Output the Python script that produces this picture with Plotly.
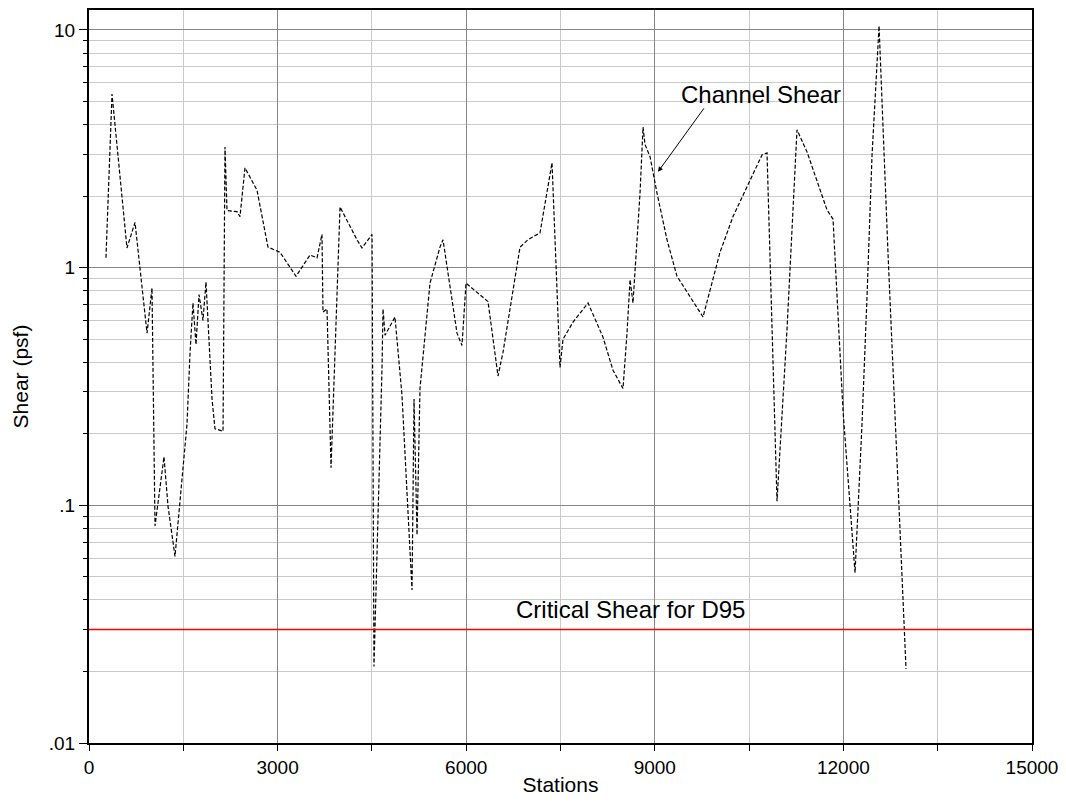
import math
import plotly.graph_objects as go

# stations along the reach and computed channel shear (psf)
stations = [
    270, 366, 604, 732, 923, 1002, 1050, 1193, 1257, 1368,
    1559, 1607, 1654, 1702, 1750, 1813, 1861, 1957, 2004, 2132,
    2163, 2195, 2354, 2402, 2481, 2672, 2847, 3038, 3293, 3515,
    3627, 3706, 3722, 3786, 3850, 3993, 4263, 4343, 4502, 4533,
    4661, 4677, 4709, 4867, 4979, 5138, 5170, 5218, 5265, 5424,
    5583, 5631, 5854, 5933, 5997, 6172, 6347, 6506, 6585, 6856,
    6983, 7174, 7253, 7365, 7444, 7492, 7540, 7699, 7938, 8176,
    8335, 8494, 8558, 8606, 8653, 8765, 8813, 8844, 8924, 9035,
    9194, 9353, 9767, 10037, 10244, 10514, 10705, 10785, 10944, 11103,
    11262, 11421, 11739, 11835, 11994, 12185, 12296, 12376, 12455, 12567,
    12710, 12996,
]
shear = [
    1.10, 5.38, 1.21, 1.55, 0.53, 0.82, 0.082, 0.16, 0.099, 0.061,
    0.22, 0.44, 0.71, 0.475, 0.77, 0.60, 0.87, 0.28, 0.21, 0.205,
    3.22, 1.74, 1.72, 1.64, 2.63, 2.12, 1.22, 1.16, 0.92, 1.13,
    1.10, 1.38, 0.65, 0.67, 0.144, 1.80, 1.31, 1.21, 1.38, 0.021,
    0.38, 0.67, 0.52, 0.62, 0.29, 0.044, 0.28, 0.075, 0.31, 0.86,
    1.22, 1.31, 0.53, 0.47, 0.86, 0.79, 0.72, 0.35, 0.44, 1.22,
    1.31, 1.40, 1.87, 2.76, 0.81, 0.38, 0.50, 0.59, 0.71, 0.51,
    0.37, 0.31, 0.53, 0.89, 0.71, 2.06, 3.9, 3.3, 2.93, 2.06,
    1.31, 0.92, 0.62, 1.16, 1.64, 2.35, 2.98, 3.04, 0.104, 0.55,
    3.8, 3.07, 1.75, 1.6, 0.25, 0.052, 0.22, 0.76, 2.95, 10.4,
    1.14, 0.0205,
]

critical_shear = 0.03
x_range = [0, 15000]

x_major = [0, 3000, 6000, 9000, 12000, 15000]
x_major_text = ["0", "3000", "6000", "9000", "12000", "15000"]
x_minor = [1500, 4500, 7500, 10500, 13500]
y_major = [0.01, 0.1, 1, 10]
y_major_text = [".01", ".1", "1", "10"]
y_minor = [m * d for d in (0.01, 0.1, 1) for m in range(2, 10)]

FONT = "Liberation Sans, Arial, sans-serif"
GRID_MAJOR = "#858585"
GRID_MINOR = "#cacaca"

fig = go.Figure()
fig.add_trace(go.Scatter(
    x=stations, y=shear, mode="lines", name="Channel Shear",
    line=dict(color="black", width=1.2, dash="4px,2px"),
))
fig.add_trace(go.Scatter(
    x=x_range, y=[critical_shear, critical_shear], mode="lines",
    name="Critical Shear for D95",
    line=dict(color="#ff0000", width=1.5),
))

fig.add_annotation(
    x=8606, y=-1.437, text="Critical Shear for D95",
    showarrow=False, yanchor="middle", xanchor="center",
    font=dict(family=FONT, size=24, color="black"),
)
fig.add_annotation(
    x=10690, y=math.log10(5.33), text="Channel Shear",
    showarrow=False, xanchor="center", yanchor="middle",
    font=dict(family=FONT, size=24, color="black"),
)
fig.add_annotation(
    x=9051, y=math.log10(2.53), text="", ax=47, ay=-65,
    showarrow=True, arrowhead=2, arrowsize=1, arrowwidth=1, arrowcolor="black",
)

fig.update_xaxes(
    range=x_range, tickmode="array", tickvals=x_major, ticktext=x_major_text,
    ticks="outside", ticklen=6, tickcolor="black", ticklabeloverflow="allow",
    showgrid=True, gridcolor=GRID_MAJOR, gridwidth=1,
    minor=dict(tickmode="array", tickvals=x_minor, ticks="outside", ticklen=6,
               tickcolor="black", showgrid=True, gridcolor=GRID_MINOR, gridwidth=1),
    showline=True, linecolor="black", linewidth=2, mirror=True,
    zeroline=False,
    tickfont=dict(family=FONT, size=19, color="black"),
    title=dict(text="Stations", font=dict(family=FONT, size=21, color="black"), standoff=13),
)
fig.update_yaxes(
    type="log", range=[-2, 1.084], tickmode="array",
    tickvals=y_major, ticktext=y_major_text,
    ticks="outside", ticklen=8, tickcolor="black",
    showgrid=True, gridcolor=GRID_MAJOR, gridwidth=1,
    minor=dict(tickmode="array", tickvals=y_minor, ticks="outside", ticklen=4,
               tickcolor="black", showgrid=True, gridcolor=GRID_MINOR, gridwidth=1),
    showline=True, linecolor="black", linewidth=2, mirror=True,
    zeroline=False,
    tickfont=dict(family=FONT, size=19, color="black"),
    title=dict(text="Shear (psf)", font=dict(family=FONT, size=21, color="black"), standoff=14),
)

# page body adds an 8px offset, so the figure is sized to fit the window
fig.update_layout(
    width=1050, height=788,
    margin=dict(l=81, r=26, t=2, b=53, autoexpand=False),
    plot_bgcolor="white", paper_bgcolor="white",
    showlegend=False,
)

fig.write_html("out.html")
